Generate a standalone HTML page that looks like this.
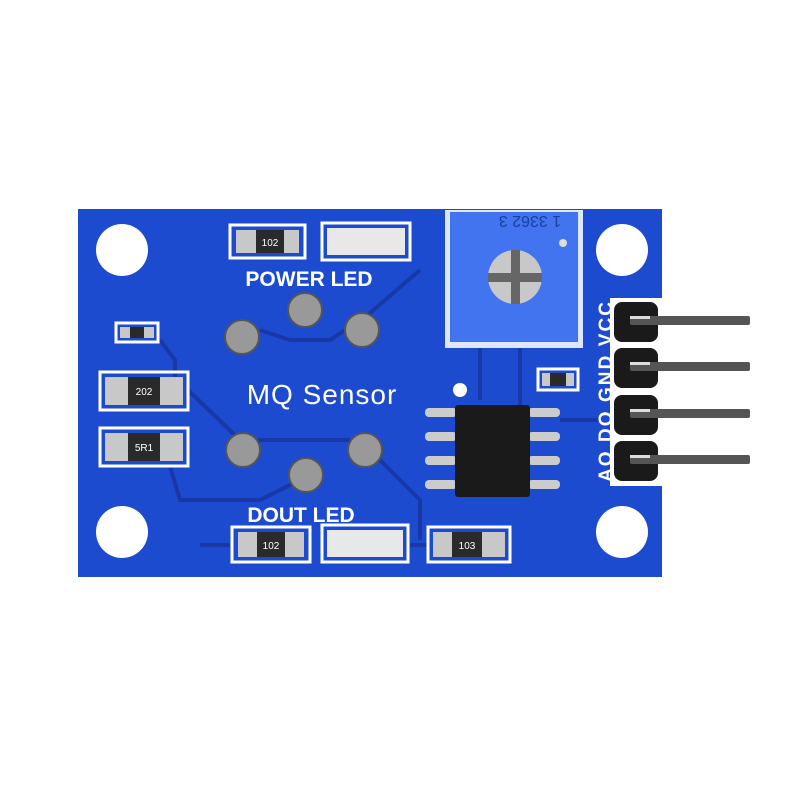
<!DOCTYPE html>
<html><head><style>body{margin:0;background:#fff}svg{display:block}</style></head><body>
<svg width="800" height="800" viewBox="0 0 800 800" xmlns="http://www.w3.org/2000/svg" font-family="Liberation Sans, sans-serif">
<rect x="78" y="209" width="584" height="368" fill="#1c4bd0"/>
<g stroke="#1838a8" stroke-width="4" fill="none">
<path d="M160 340 L175 360 L175 380"/><path d="M188 390 L240 440"/><path d="M170 466 L180 500 L260 500 L300 480"/>
<path d="M260 330 L290 340 L330 340 L360 320"/><path d="M362 320 L420 270"/><path d="M250 450 L260 440 L350 440"/>
<path d="M380 460 L420 500 L420 540"/><path d="M200 545 L230 545"/><path d="M410 545 L430 545"/>
<path d="M480 348 L480 400"/><path d="M520 348 L520 405"/><path d="M560 420 L600 420"/>
</g>
<g fill="#fff">
<circle cx="122" cy="250" r="26"/><circle cx="622" cy="250" r="26"/><circle cx="122" cy="532" r="26"/><circle cx="622" cy="532" r="26"/>
<circle cx="460" cy="390" r="7"/>
</g>
<g fill="none" stroke="#fff" stroke-width="3">
<rect x="230" y="225" width="75" height="33"/><rect x="322" y="223" width="88" height="37"/>
<rect x="116" y="323" width="42" height="19"/><rect x="100" y="372" width="88" height="38"/><rect x="100" y="428" width="88" height="38"/>
<rect x="232" y="527" width="78" height="35"/><rect x="322" y="525" width="86" height="37"/><rect x="428" y="527" width="82" height="35"/>
<rect x="538" y="369" width="40" height="21"/>
</g>
<g fill="#c8c8c8">
<rect x="236" y="230" width="63" height="23"/><rect x="327" y="228" width="78" height="27" fill="#e8e8e8"/>
<rect x="120" y="327" width="34" height="11"/><rect x="105" y="377" width="78" height="28"/><rect x="105" y="433" width="78" height="28"/>
<rect x="238" y="532" width="66" height="25"/><rect x="327" y="530" width="76" height="27" fill="#e8e8e8"/><rect x="433" y="532" width="72" height="25"/>
<rect x="542" y="373" width="32" height="13"/>
</g>
<g fill="#2a2a2a"><rect x="256" y="230" width="28" height="23"/><rect x="130" y="327" width="14" height="11"/><rect x="128" y="377" width="32" height="28"/><rect x="128" y="433" width="32" height="28"/><rect x="257" y="532" width="28" height="25"/><rect x="452" y="532" width="30" height="25"/><rect x="550" y="373" width="16" height="13"/></g>
<g fill="#fff" font-size="10" text-anchor="middle"><text x="270" y="246">102</text><text x="144" y="395">202</text><text x="144" y="451">5R1</text><text x="271" y="549">102</text><text x="467" y="549">103</text></g>
<g fill="#999" stroke="#555" stroke-width="2">
<circle cx="242" cy="337" r="17"/><circle cx="305" cy="310" r="17"/><circle cx="362" cy="330" r="17"/>
<circle cx="243" cy="450" r="17"/><circle cx="306" cy="475" r="17"/><circle cx="365" cy="450" r="17"/>
</g>
<g fill="#fff" font-weight="bold" text-anchor="middle">
<text x="309" y="286" font-size="21">POWER LED</text><text x="322" y="404" font-size="28" font-weight="normal" letter-spacing="1">MQ Sensor</text><text x="301" y="522" font-size="21">DOUT LED</text>
</g>
<rect x="445" y="210" width="138" height="138" fill="#dde6ff"/>
<rect x="450" y="212" width="128" height="130" fill="#4274f0"/>
<text x="530" y="228" fill="#1a3fa0" font-size="16" text-anchor="middle" transform="rotate(180 530 222)">1 3362 3</text>
<circle cx="515" cy="277" r="27" fill="#c8c8c8"/>
<rect x="511" y="250" width="9" height="54" fill="#666"/><rect x="488" y="273" width="54" height="9" fill="#666"/>
<circle cx="563" cy="243" r="4" fill="#ddd"/>
<g fill="#ccc"><rect x="425" y="408" width="32" height="9" rx="4"/><rect x="425" y="432" width="32" height="9" rx="4"/><rect x="425" y="456" width="32" height="9" rx="4"/><rect x="425" y="480" width="32" height="9" rx="4"/>
<rect x="528" y="408" width="32" height="9" rx="4"/><rect x="528" y="432" width="32" height="9" rx="4"/><rect x="528" y="456" width="32" height="9" rx="4"/><rect x="528" y="480" width="32" height="9" rx="4"/></g>
<rect x="455" y="405" width="75" height="92" rx="3" fill="#1a1a1a"/>
<rect x="610" y="298" width="52" height="188" fill="#fff"/>
<g fill="#1a1a1a"><rect x="614" y="302" width="44" height="40" rx="8"/><rect x="614" y="348" width="44" height="40" rx="8"/><rect x="614" y="395" width="44" height="40" rx="8"/><rect x="614" y="441" width="44" height="40" rx="8"/></g>
<g fill="#555"><rect x="630" y="316" width="120" height="9" rx="2"/><rect x="630" y="362" width="120" height="9" rx="2"/><rect x="630" y="409" width="120" height="9" rx="2"/><rect x="630" y="455" width="120" height="9" rx="2"/></g>
<g fill="#ddd"><rect x="630" y="316" width="20" height="3"/><rect x="630" y="362" width="20" height="3"/><rect x="630" y="409" width="20" height="3"/><rect x="630" y="455" width="20" height="3"/></g>
<g fill="#fff" font-weight="bold" font-size="19" transform="rotate(-90 605 392)"><text x="515" y="399" textLength="180" lengthAdjust="spacing">AO DO GND VCC</text></g>
</svg>
</body></html>
